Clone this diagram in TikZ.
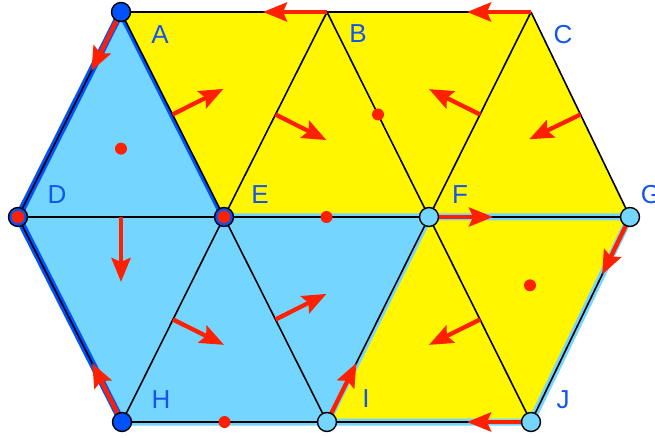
\documentclass[tikz,border=0pt]{standalone}
\usepackage{fontspec}
\setmainfont{Liberation Sans}
\usetikzlibrary{calc,arrows.meta}
\definecolor{lblue}{RGB}{116,214,255}
\definecolor{dblue}{RGB}{0,82,255}
\definecolor{yel}{RGB}{255,246,0}
\definecolor{rd}{RGB}{255,32,0}
\definecolor{lab}{RGB}{20,85,235}
\begin{document}
\begin{tikzpicture}[x=1pt,y=-1pt,
  edge/.style={line width=1.6pt, draw=black},
  redarrow/.style={draw=rd, line width=4.3pt, -{Stealth[length=24pt,width=19pt,inset=4pt]}},
  lbline/.style={draw=lblue, line width=7pt, line join=round, line cap=round},
  dbline/.style={draw=dblue, line width=7pt, line join=round, line cap=round},
  dot/.style={circle, fill=rd, inner sep=0pt, minimum size=12pt},
  vtx/.style={circle, draw=black, line width=1.4pt, inner sep=0pt, minimum size=19pt},
  lbl/.style={text=lab, inner sep=0pt, font=\fontsize{26}{26}\selectfont}
]
\useasboundingbox (0,0) rectangle (655,438);
% vertices
\coordinate (A) at (121,12);
\coordinate (B) at (327,12);
\coordinate (C) at (531,12);
\coordinate (D) at (18,217);
\coordinate (E) at (224,217);
\coordinate (F) at (429,217);
\coordinate (G) at (630,217);
\coordinate (H) at (122,422);
\coordinate (I) at (327,422);
\coordinate (J) at (531,422);
% light blue fills
\fill[lblue] (A) -- (D) -- (E) -- cycle;
\fill[lblue] (D) -- (E) -- (H) -- cycle;
\fill[lblue] (E) -- (H) -- (I) -- cycle;
\fill[lblue] (E) -- (I) -- (F) -- cycle;
% dark blue boundary
\draw[dbline] (H) -- (D) -- (A) -- (E);
% yellow fills
\fill[yel] (A) -- (E) -- (B) -- cycle;
\fill[yel] (B) -- (E) -- (F) -- cycle;
\fill[yel] (B) -- (F) -- (C) -- cycle;
\fill[yel] (C) -- (F) -- (G) -- cycle;
\fill[yel] (F) -- (I) -- (J) -- cycle;
\fill[yel] (F) -- (J) -- (G) -- cycle;
% light blue boundary
\draw[lbline] (E) -- (F) -- (G) -- (J) -- (I) -- (H);
\draw[lbline] (F) -- (I);
% black edges
\draw[edge] (A) -- (C);
\draw[edge] (D) -- (G);
\draw[edge] (H) -- (J);
\draw[edge] (A) -- (D) -- (H);
\draw[edge] (C) -- (G) -- (J);
\draw[edge] (A) -- (E) -- (I);
\draw[edge] (B) -- (E) -- (H);
\draw[edge] (B) -- (F) -- (J);
\draw[edge] (C) -- (F) -- (I);
% red edge arrows
\draw[redarrow] (B) -- ($(B)!64pt!(A)$);
\draw[redarrow] (C) -- ($(C)!64pt!(B)$);
\draw[redarrow] (A) -- ($(A)!66pt!(D)$);
\draw[redarrow] (H) -- ($(H)!66pt!(D)$);
\draw[redarrow] (F) -- ($(F)!64pt!(G)$);
\draw[redarrow] (G) -- ($(G)!64pt!(J)$);
\draw[redarrow] (J) -- ($(J)!64pt!(I)$);
\draw[redarrow] (I) -- ($(I)!66pt!(F)$);
% interior arrows
\coordinate (mAE) at ($(A)!0.5!(E)$);
\coordinate (mBE) at ($(B)!0.5!(E)$);
\coordinate (mCF) at ($(C)!0.5!(F)$);
\coordinate (mCG) at ($(C)!0.5!(G)$);
\coordinate (mDE) at ($(D)!0.5!(E)$);
\coordinate (mEH) at ($(E)!0.5!(H)$);
\coordinate (mEI) at ($(E)!0.5!(I)$);
\coordinate (mFJ) at ($(F)!0.5!(J)$);
\draw[redarrow] (mAE) -- ($(mAE)!57pt!90:(E)$);
\draw[redarrow] (mBE) -- ($(mBE)!57pt!90:(E)$);
\draw[redarrow] (mCF) -- ($(mCF)!57pt!-90:(F)$);
\draw[redarrow] (mCG) -- ($(mCG)!57pt!-90:(G)$);
\draw[redarrow] (mDE) -- ($(mDE)!65pt!-90:(E)$);
\draw[redarrow] (mEH) -- ($(mEH)!57pt!90:(H)$);
\draw[redarrow] (mEI) -- ($(mEI)!57pt!-90:(E)$);
\draw[redarrow] (mFJ) -- ($(mFJ)!57pt!-90:(J)$);
% dots
\node[dot] (d1) at (barycentric cs:A=1,D=1,E=1) {};
\node[dot] (d2) at ($(B)!0.5!(F)$) {};
\node[dot] (d3) at ($(E)!0.5!(F)$) {};
\node[dot] (d4) at (barycentric cs:F=1,J=1,G=1) {};
\node[dot] (d5) at ($(H)!0.5!(I)$) {};
% vertex markers
\node[vtx, fill=dblue] (vA) at (A) {};
\node[vtx, fill=dblue] (vH) at (H) {};
\node[vtx, fill=dblue] (vD) at (D) {};
\node[vtx, fill=dblue] (vE) at (E) {};
\fill[rd] (D) circle (6.3pt);
\fill[rd] (E) circle (6.3pt);
\node[vtx, fill=lblue] (vF) at (F) {};
\node[vtx, fill=lblue] (vG) at (G) {};
\node[vtx, fill=lblue] (vI) at (I) {};
\node[vtx, fill=lblue] (vJ) at (J) {};
% labels
\node[lbl] (lA) at (160,35) {A};
\node[lbl] (lB) at (358,34) {B};
\node[lbl] (lC) at (563,35) {C};
\node[lbl] (lD) at (57,195) {D};
\node[lbl] (lE) at (260,195) {E};
\node[lbl] (lF) at (460,195) {F};
\node[lbl] (lG) at (651,195) {G};
\node[lbl] (lH) at (161,400) {H};
\node[lbl] (lI) at (366,399) {I};
\node[lbl] (lJ) at (563,400) {J};
\end{tikzpicture}
\end{document}
